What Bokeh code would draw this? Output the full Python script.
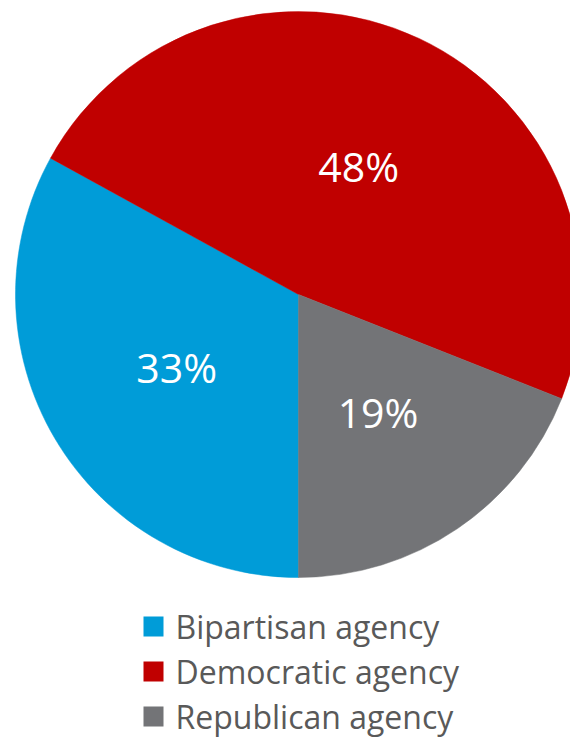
import numpy as np
from bokeh.plotting import figure
from bokeh.models import Range1d, ColumnDataSource
from bokeh.core.properties import value
from bokeh.embed import file_html
from bokeh.resources import INLINE

categories = ["Bipartisan agency", "Democratic agency", "Republican agency"]
shares = [33, 48, 19]
labels = ["33%", "48%", "19%"]
colors = ["#009CD8", "#C00000", "#737477"]

W, H = 570, 738
cx, cy, r = 298, 444, 283

p = figure(width=W, height=H, x_range=Range1d(0, W), y_range=Range1d(0, H),
           output_backend="svg", toolbar_location=None, min_border=0,
           x_axis_type=None, y_axis_type=None)
p.grid.visible = False
p.outline_line_color = None
p.background_fill_color = "white"

frac = np.array(shares, dtype=float) / sum(shares)
cum_end = np.cumsum(frac)
cum_start = cum_end - frac
start = np.deg2rad(270 - cum_end * 360)
end = np.deg2rad(270 - cum_start * 360)
mid = (start + end) / 2

src = ColumnDataSource(dict(start=start, end=end, color=colors,
                            lx=cx + 0.5 * r * np.cos(mid), ly=cy + 0.5 * r * np.sin(mid),
                            label=labels))
p.wedge(x=cx, y=cy, radius=r, start_angle="start", end_angle="end",
        fill_color="color", line_color="color", line_width=0.5, source=src)
p.text(x="lx", y="ly", text="label", source=src, text_color="white",
       text_font=value("Open Sans"), text_font_size="41px",
       text_align="center", text_baseline="middle")

rows_y = [112 - 45 * i for i in range(len(categories))]
leg = ColumnDataSource(dict(y=rows_y, color=colors, name=categories))
p.scatter(x=153, y="y", marker="square", size=20, fill_color="color",
          line_color=None, source=leg)
p.text(x=175, y="y", text="name", source=leg, text_color="#595959",
       text_font=value("Open Sans"), text_font_size="32px",
       text_align="left", text_baseline="middle")

open("out.html", "w").write(file_html(p, INLINE))
